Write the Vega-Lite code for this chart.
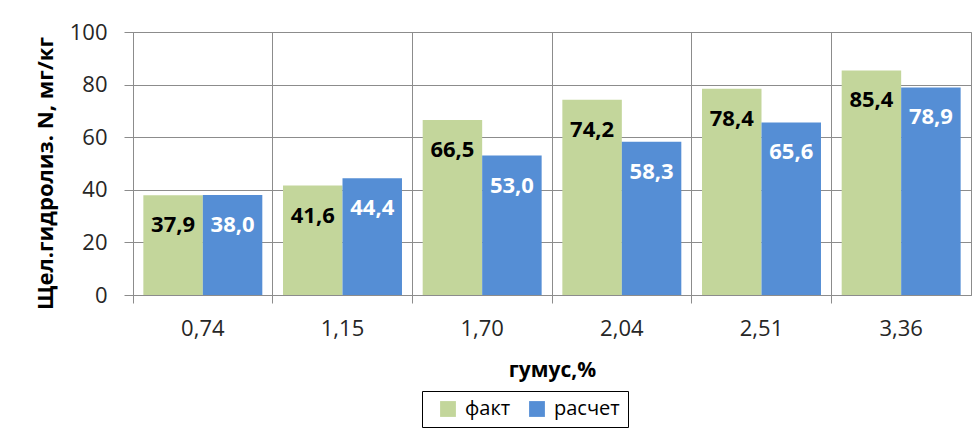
{
  "$schema": "https://vega.github.io/schema/vega-lite/v6.json",
  "width": 838,
  "height": 263,
  "autosize": {"type": "none"},
  "padding": {"left": 133, "top": 32, "right": 8, "bottom": 135},
  "background": "white",
  "config": {
    "locale": {"number": {"decimal": ",", "thousands": " ", "grouping": [3], "currency": ["", ""]}},
    "view": {"stroke": "#8c8c8c", "strokeWidth": 1},
    "font": "Open Sans"
  },
  "data": {
    "values": [
      {"gumus": "0,74", "series": "факт", "value": 37.9},
      {"gumus": "0,74", "series": "расчет", "value": 38.0},
      {"gumus": "1,15", "series": "факт", "value": 41.6},
      {"gumus": "1,15", "series": "расчет", "value": 44.4},
      {"gumus": "1,70", "series": "факт", "value": 66.5},
      {"gumus": "1,70", "series": "расчет", "value": 53.0},
      {"gumus": "2,04", "series": "факт", "value": 74.2},
      {"gumus": "2,04", "series": "расчет", "value": 58.3},
      {"gumus": "2,51", "series": "факт", "value": 78.4},
      {"gumus": "2,51", "series": "расчет", "value": 65.6},
      {"gumus": "3,36", "series": "факт", "value": 85.4},
      {"gumus": "3,36", "series": "расчет", "value": 78.9}
    ]
  },
  "encoding": {
    "x": {
      "field": "gumus", "type": "nominal", "sort": null,
      "scale": {"paddingInner": 0, "paddingOuter": 0},
      "axis": {
        "title": "гумус,%",
        "titleFont": "Open Sans", "titleFontSize": 21, "titleFontWeight": "bold", "titleColor": "#000",
        "titleBaseline": "middle", "titleY": 75,
        "labelFont": "Open Sans", "labelFontSize": 22, "labelColor": "#262626", "labelAngle": 0,
        "labelPadding": 15,
        "bandPosition": 0,
        "grid": true, "gridColor": "#8c8c8c", "gridWidth": 1,
        "ticks": true, "tickColor": "#8c8c8c", "tickSize": 8,
        "domainColor": "#8c8c8c"
      }
    },
    "xOffset": {
      "field": "series", "type": "nominal", "sort": ["факт", "расчет"],
      "scale": {"paddingInner": 0, "paddingOuter": 0.174}
    },
    "y": {
      "field": "value", "type": "quantitative",
      "scale": {"domain": [0, 100], "nice": false},
      "axis": {
        "title": "Щел.гидролиз. N, мг/кг",
        "values": [0, 20, 40, 60, 80, 100],
        "titleFont": "Open Sans", "titleFontSize": 22, "titleFontWeight": "bold", "titleColor": "#000",
        "titleAngle": -90, "titleBaseline": "middle", "titleAlign": "center",
        "titleX": -88, "titleY": 141,
        "labelFont": "Open Sans", "labelFontSize": 22, "labelColor": "#262626", "labelPadding": 17,
        "grid": true, "gridColor": "#8c8c8c", "gridWidth": 1,
        "ticks": true, "tickColor": "#8c8c8c", "tickSize": 9,
        "domainColor": "#8c8c8c"
      }
    }
  },
  "layer": [
    {
      "mark": {"type": "bar"},
      "encoding": {
        "color": {
          "field": "series", "type": "nominal",
          "scale": {"domain": ["факт", "расчет"], "range": ["#C3D69B", "#558ED5"]},
          "legend": {
            "title": null,
            "orient": "none", "direction": "horizontal",
            "legendX": 289, "legendY": 359,
            "strokeColor": "#000", "fillColor": "white",
            "padding": 8, "columnPadding": 8, "symbolOffset": 8,
            "symbolType": "square", "symbolSize": 250, "symbolStrokeWidth": 0,
            "labelFont": "Open Sans", "labelFontSize": 20, "labelColor": "#000", "labelOffset": 7,
            "rowPadding": 0
          }
        }
      }
    },
    {
      "mark": {"type": "text", "baseline": "middle", "dy": 30, "fontWeight": "bold", "fontSize": 22, "font": "Open Sans"},
      "encoding": {
        "text": {"field": "value", "type": "quantitative", "format": ".1f"},
        "color": {
          "condition": {"test": "datum.series === 'расчет'", "value": "white"},
          "value": "black"
        }
      }
    }
  ]
}
